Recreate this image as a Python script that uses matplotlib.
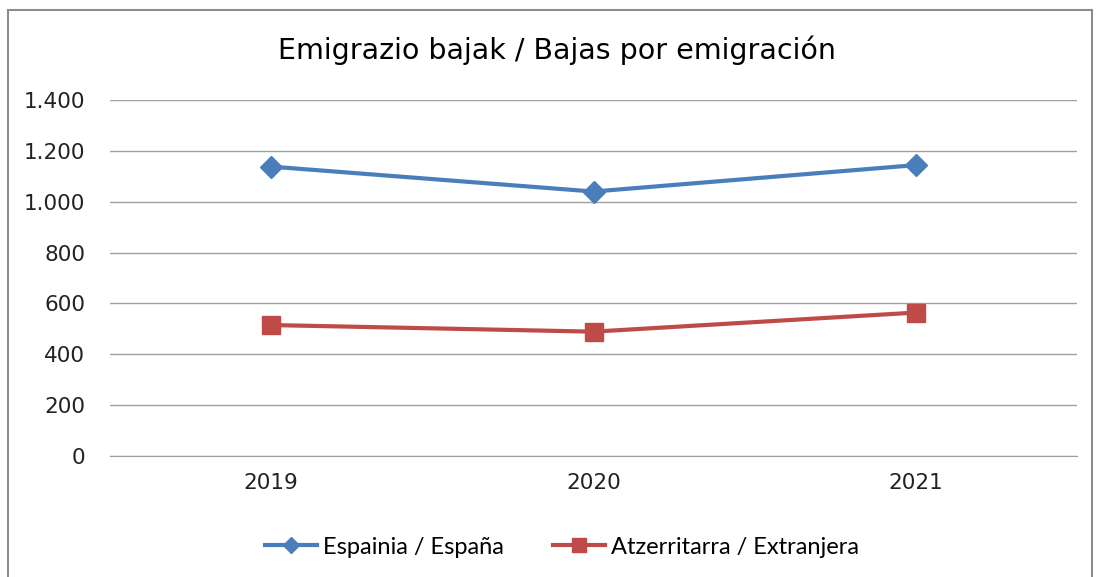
import matplotlib.pyplot as plt
from matplotlib.patches import Rectangle
from matplotlib.ticker import FuncFormatter

years = ["2019", "2020", "2021"]
espana = [1138, 1040, 1144]
extranjera = [515, 489, 564]
yticks = [0, 200, 400, 600, 800, 1000, 1200, 1400]

fig = plt.figure(figsize=(10.98, 5.77), dpi=100)
W, H = 1098, 577
ax = fig.add_axes([110 / W, 1 - 456 / H, (1077 - 110) / W, (456 - 100) / H])

# marco exterior
fig.patches.append(Rectangle((8 / W, -0.01), (1092 - 8) / W, 1 - 10 / H + 0.01,
                             transform=fig.transFigure, fill=False,
                             edgecolor="#8c8c8c", linewidth=1.5))

x = range(len(years))
ax.plot(x, espana, color="#4a7ebb", linewidth=3, marker="D", markersize=11,
        label="Espainia / España")
ax.plot(x, extranjera, color="#be4b48", linewidth=3, marker="s", markersize=13,
        label="Atzerritarra / Extranjera")

ax.set_xlim(-0.5, 2.5)
ax.set_ylim(0, 1400)
ax.set_yticks(yticks)
ax.yaxis.set_major_formatter(FuncFormatter(lambda v, p: f"{int(v):,}".replace(",", ".")))
ax.set_xticks(list(x))
ax.set_xticklabels(years)
ax.grid(axis="y", color="#a0a0a0", linewidth=1)
ax.set_axisbelow(True)
for s in ["top", "right", "left"]:
    ax.spines[s].set_visible(False)
ax.spines["bottom"].set_color("#a0a0a0")
ax.tick_params(axis="y", length=0, pad=18, labelsize=15.5, labelcolor="#222222")
ax.tick_params(axis="x", length=0, pad=12, labelsize=15.5, labelcolor="#222222")

fig.text(0.507, 1 - 50 / H, "Emigrazio bajak / Bajas por emigración",
         ha="center", va="center", fontsize=20.5)

fig.legend(loc="center", bbox_to_anchor=(0.512, 1 - 547 / H), ncol=2,
           frameon=False, handlelength=2.2, columnspacing=2.1,
           handletextpad=0.25, markerscale=0.75,
           prop={"family": "Lato", "size": 17})

fig.savefig("out.png", dpi=100)
